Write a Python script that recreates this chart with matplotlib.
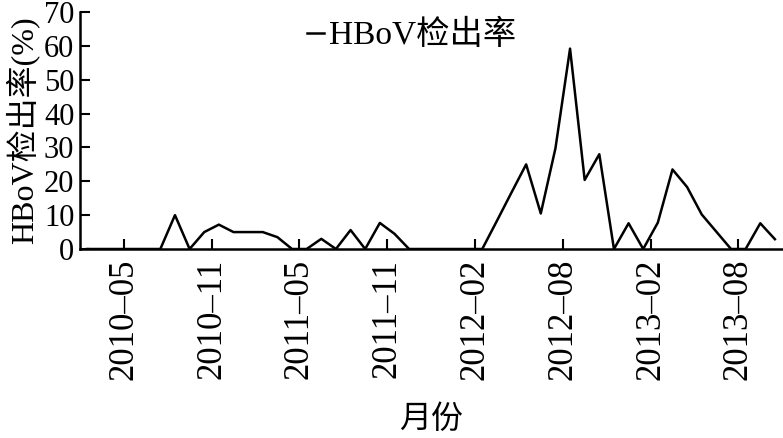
import matplotlib
matplotlib.use("Agg")
import matplotlib.pyplot as plt
import numpy as np

plt.rcParams['font.family'] = ['Liberation Serif', 'Noto Sans CJK SC']

# monthly HBoV detection rate (%), one value per month slot
rate = [0, 0, 0, 0, 0, 0, 10, 0, 5, 7.2,
        5, 5, 5, 3.5, 0, 0, 3, 0, 5.6, 0,
        7.7, 4.5, 0, 0, 0, 0, 0, 0, 8.3, 16.7,
        25, 10.5, 29.7, 59.2, 20.4, 28, 0, 7.6, 0, 7.8,
        23.5, 18.3, 10.2, 5.1, 0, 0, 7.6, 2.9]

tick_labels = ["2010–05", "2010–11", "2011–05", "2011–11",
               "2012–02", "2012–08", "2013–02", "2013–08"]
tick_pos = [2.5, 8.5, 14.5, 20.5, 26.5, 32.5, 38.5, 44.5]

x = np.arange(len(rate))

fig = plt.figure(figsize=(7.83, 4.38), dpi=100)
ax = fig.add_axes([0.102, 0.4315, 0.897, 0.541])

ax.plot(x, rate, color='black', linewidth=1.8, label='HBoV检出率')

ax.set_xlim(-0.5, len(rate) - 0.5)
ax.set_ylim(0, 70)
ax.set_yticks(np.arange(0, 71, 10))
ax.set_xticks(tick_pos)
ax.set_xticklabels(tick_labels, rotation=90)

ax.spines['top'].set_visible(False)
ax.spines['right'].set_visible(False)
ax.spines['left'].set_linewidth(1.8)
ax.spines['bottom'].set_linewidth(1.8)

ax.tick_params(axis='both', direction='in', length=7, width=1.5,
               labelsize=22, colors='black')
ax.tick_params(axis='y', pad=4)
ax.tick_params(axis='x', pad=7, labelsize=25)

ax.set_ylabel('HBoV检出率(%)', fontsize=23, labelpad=3)
ax.set_xlabel('月份', fontsize=23, labelpad=18)

ax.legend(loc='center left', bbox_to_anchor=(0.305, 0.9), frameon=False,
          fontsize=24, handlelength=0.5, handletextpad=0.15,
          borderaxespad=0)

fig.savefig('out.png', dpi=100)
